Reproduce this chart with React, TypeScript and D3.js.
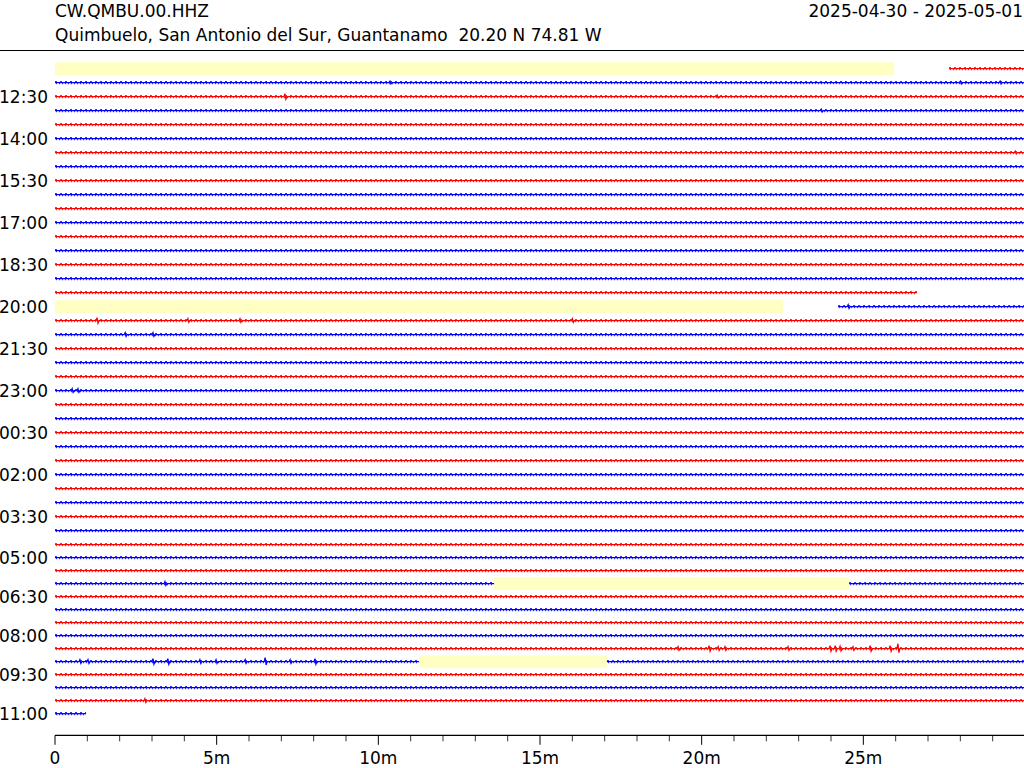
import React from "react";
import * as d3 from "d3";

// ---------- data ----------
const titleLeft1 = "CW.QMBU.00.HHZ";
const titleLeft2 = "Quimbuelo, San Antonio del Sur, Guantanamo  20.20 N 74.81 W";
const titleRight = "2025-04-30 - 2025-05-01";

const rowCount = 48; // 30-minute rows from 11:30 to 11:00 next day
const rowColors = ["#ff0000", "#0000ff"];

const yLabelRows = [2, 5, 8, 11, 14, 17, 20, 23, 26, 29, 32, 35, 38, 41, 44, 47];
const yLabels = ["12:30", "14:00", "15:30", "17:00", "18:30", "20:00", "21:30", "23:00",
  "00:30", "02:00", "03:30", "05:00", "06:30", "08:00", "09:30", "11:00"];

const xMajorTicks = [0, 5, 10, 15, 20, 25];
const xMajorLabels = ["0", "5m", "10m", "15m", "20m", "25m"];
const xMinorTicks = [1, 2, 3, 4, 6, 7, 8, 9, 11, 12, 13, 14, 16, 17, 18, 19, 21, 22, 23, 24, 26, 27, 28, 29];

// rows with partial data (others span the full 0-30 min)
const partialRows = [0, 16, 17, 37, 37, 43, 43, 47];
const partialFrom = [27.65, 0, 24.22, 0, 24.56, 0, 17.07, 0];
const partialTo = [30, 26.66, 30, 13.58, 30, 11.26, 30, 0.96];

// gap bands (yellow)
const gapRows = [0, 17, 37, 43];
const gapFrom = [0, 0, 13.58, 11.26];
const gapTo = [25.95, 22.52, 24.56, 17.07];

// notable spikes: row, minute, amplitude
const eventRows = [1, 1, 1, 2, 2, 17, 18, 18, 18, 18, 19, 19, 23, 23, 42, 42, 42, 42, 42, 42, 42, 42, 42, 42, 42, 42,
  43, 43, 43, 43, 43, 43, 43, 43, 43, 43, 46, 37, 3, 6];
const eventMinutes = [10.36, 28.0, 29.23, 7.11, 20.48, 24.53, 1.3, 4.11, 5.72, 16.0, 2.17, 3.03, 0.53, 0.71,
  19.27, 20.23, 20.51, 20.72, 22.67, 23.97, 24.13, 24.28, 24.68, 25.21, 25.83, 26.07,
  0.77, 1.02, 3.03, 3.49, 4.48, 4.98, 5.88, 6.5, 7.27, 8.04, 2.78, 3.4, 23.7, 29.7];
const eventAmps = [1.5, 1.5, 1.5, 3, 1.5, 2, 3, 2, 2, 2, 2, 2, 2, 2,
  2, 3, 2, 2, 2, 3, 3, 2.5, 2, 3, 3, 5,
  2, 2, 3, 3, 2, 2, 2, 4, 2, 3, 2, 2, 1.5, 1.5];

// ---------- layout ----------
const W = 1024;
const H = 768;
const x = d3.scaleLinear().domain([0, 30]).range([55, 1025]);
const rowY = d3.scaleLinear().domain([0, 34, 47]).range([68.7, 544.7, 713.7]);
const amp = d3.scaleLinear().domain([-1, 1]).range([1, -1]);
const axisY = 735.3;
const FONT = "DejaVu Sans, sans-serif";
const FS = 17;

type Seg = { row: number; from: number; to: number };

function buildSegments(): Seg[] {
  const segs: Seg[] = [];
  for (let r = 0; r < rowCount; r++) {
    const idx = partialRows.map((pr, i) => (pr === r ? i : -1)).filter((i) => i >= 0);
    if (idx.length === 0) segs.push({ row: r, from: 0, to: 30 });
    else idx.forEach((i) => segs.push({ row: r, from: partialFrom[i], to: partialTo[i] }));
  }
  return segs;
}

function segPath(seg: Seg): string {
  const pts: [number, number][] = [[seg.from, 0]];
  const evs = eventRows
    .map((r, i) => ({ r, t: eventMinutes[i], a: eventAmps[i] }))
    .filter((e) => e.r === seg.row && e.t > seg.from && e.t < seg.to)
    .sort((a, b) => a.t - b.t);
  evs.forEach((e) => {
    pts.push([e.t - 0.03, 0], [e.t, e.a], [e.t + 0.03, -e.a * 0.8], [e.t + 0.06, 0]);
  });
  pts.push([seg.to, 0]);
  const y0 = rowY(seg.row);
  const line = d3.line<[number, number]>().x((d) => x(d[0])).y((d) => y0 + amp(d[1]));
  return line(pts) || "";
}

export default function App() {
  const segs = buildSegments();
  return (
    <svg width={W} height={H} style={{ position: "absolute", left: 0, top: 0, background: "#fff" }}
      fontFamily={FONT}>
      <rect x={0} y={0} width={W} height={H} fill="#fff" />
      {/* titles */}
      <text x={55} y={16.5} fontSize={FS} fill="#000">{titleLeft1}</text>
      <text x={55} y={40.5} fontSize={FS} fill="#000" style={{ whiteSpace: "pre" }}>{titleLeft2}</text>
      <text x={1023} y={16.5} fontSize={FS} fill="#000" textAnchor="end">{titleRight}</text>
      <line x1={0} x2={W} y1={50.5} y2={50.5} stroke="#000" strokeWidth={1.2} />

      {/* gap bands */}
      {gapRows.map((r, i) => (
        <rect key={"g" + i} x={x(gapFrom[i])} width={x(gapTo[i]) - x(gapFrom[i])}
          y={rowY(r) - 6.5} height={13} fill="#ffffc4" />
      ))}

      {/* traces */}
      {segs.map((s, i) => {
        const c = rowColors[s.row % 2];
        const y0 = rowY(s.row);
        return (
          <g key={"s" + i}>
            <path d={segPath(s)} fill="none" stroke={c} strokeWidth={1.3} />
            <line x1={x(s.from)} x2={x(s.to)} y1={y0 - 1} y2={y0 - 1} stroke={c} strokeWidth={1}
              strokeDasharray="2 3" />
            <line x1={x(s.from)} x2={x(s.to)} y1={y0 + 1} y2={y0 + 1} stroke={c} strokeWidth={1}
              strokeDasharray="1 2" strokeDashoffset={2} />
          </g>
        );
      })}

      {/* y labels */}
      {yLabelRows.map((r, i) => (
        <text key={"yl" + i} x={48} y={rowY(r) + 6.5} fontSize={FS} textAnchor="end" fill="#000">
          {yLabels[i]}
        </text>
      ))}

      {/* x axis */}
      <line x1={x(0)} x2={W} y1={axisY} y2={axisY} stroke="#000" strokeWidth={1.3} />
      {xMajorTicks.map((t, i) => (
        <g key={"xt" + i}>
          <line x1={x(t)} x2={x(t)} y1={axisY} y2={axisY + 9.5} stroke="#000" strokeWidth={1} />
          <text x={x(t)} y={764} fontSize={FS} textAnchor="middle" fill="#000">{xMajorLabels[i]}</text>
        </g>
      ))}
      {xMinorTicks.map((t, i) => (
        <line key={"xm" + i} x1={x(t)} x2={x(t)} y1={axisY} y2={axisY + 6} stroke="#000" strokeWidth={0.8} />
      ))}
    </svg>
  );
}
